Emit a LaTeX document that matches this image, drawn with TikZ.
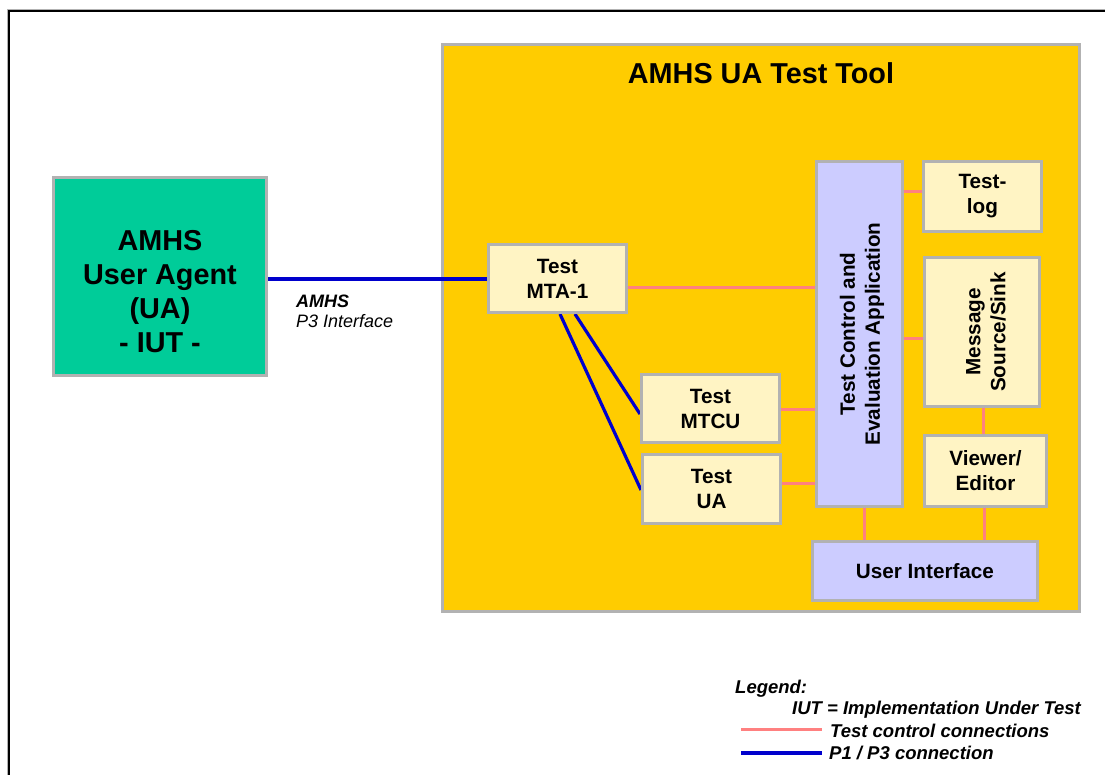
\documentclass[tikz,border=0pt]{standalone}
\usepackage{fontspec}
\setmainfont{Liberation Sans}
\definecolor{tyellow}{HTML}{FFCC00}
\definecolor{tgreen}{HTML}{00CC99}
\definecolor{tcream}{HTML}{FFF4C4}
\definecolor{tlav}{HTML}{CCCCFF}
\definecolor{tgray}{HTML}{B2B2B2}
\definecolor{tpink}{HTML}{FF8080}
\definecolor{tblue}{HTML}{0000CC}
\pgfdeclarelayer{bg}
\pgfdeclarelayer{mid}
\pgfsetlayers{bg,mid,main}
\begin{document}
\begin{tikzpicture}[x=1pt,y=-1pt,
  boxfont/.style={font=\bfseries\fontsize{20.7}{25}\selectfont},
  box/.style={draw=tgray, line width=3pt, fill=tcream, inner sep=0pt, align=center, boxfont},
  ctrl/.style={draw=tpink, line width=3pt},
  pthree/.style={draw=tblue, line width=3.2pt},
  txt/.style={inner sep=0pt},
  bigfont/.style={font=\bfseries\fontsize{28.8}{34}\selectfont},
  legfont/.style={font=\bfseries\itshape\fontsize{18.5}{22}\selectfont}]
\useasboundingbox (0,0) rectangle (1105,774);
\begin{pgfonlayer}{bg}
  \fill[white] (0,0) rectangle (1105,774);
  \draw[tgray, line width=1pt] (7.5,800) -- (7.5,9.5) -- (1110,9.5);
  \draw[black, line width=2pt] (9,800) -- (9,11) -- (1110,11);
  \node[draw=tgray, line width=3pt, fill=tyellow, minimum width=637pt, minimum height=567pt] (tool) at (761,328) {};
\end{pgfonlayer}
\node[txt, anchor=base, bigfont] (title) at (761,83) {AMHS UA Test Tool};
% IUT
\node[box, fill=tgreen, minimum width=213pt, minimum height=198pt] (iut) at (160,276.5) {};
\node[txt, anchor=north, align=center, bigfont] (iuttext) at (160,230) {AMHS\\User Agent\\(UA)\\- IUT -};
\node[txt, anchor=base west, font=\bfseries\itshape\fontsize{18}{21}\selectfont] (amhs) at (296,307) {AMHS};
\node[txt, anchor=base west, font=\itshape\fontsize{18}{21}\selectfont] (p3) at (296,327) {P3 Interface};
% boxes
\node[box, minimum width=138pt, minimum height=68pt] (mta) at (557.5,278.5) {Test\\MTA-1};
\node[box, minimum width=138pt, minimum height=68pt] (mtcu) at (710.5,408.5) {Test\\MTCU};
\node[box, minimum width=138pt, minimum height=69pt] (tua) at (711.5,489) {Test\\UA};
\node[box, fill=tlav, minimum width=86pt, minimum height=345pt] (tc) at (859.5,334) {};
\node[txt, rotate=90, align=center, boxfont] (tctext) at (862,334) {Test Control and\\Evaluation Application};
\node[box, minimum width=118pt, minimum height=70pt] (log) at (982.5,196.5) {Test-\\log};
\node[box, minimum width=115pt, minimum height=149pt] (msg) at (982,332) {};
\node[txt, rotate=90, align=center, boxfont] (msgtext) at (986,332) {Message\\Source/Sink};
\node[box, minimum width=122pt, minimum height=71pt] (view) at (985.5,471) {Viewer/\\Editor};
\node[box, fill=tlav, minimum width=225pt, minimum height=59pt] (ui) at (925,571) {User Interface};
% legend
\node[txt, anchor=base west, legfont] (leg) at (735,693) {Legend:};
\node[txt, anchor=base west, legfont] (legiut) at (792,714) {IUT = Implementation Under Test};
\node[txt, anchor=base west, legfont] (legctrl) at (830,737) {Test control connections};
\node[txt, anchor=base west, legfont] (legp) at (829,759) {P1 / P3 connection};
\coordinate (lp1) at (741,729);
\coordinate (lp2) at (822,729);
\coordinate (lb1) at (741,753);
\coordinate (lb2) at (822,753);
\begin{pgfonlayer}{mid}
  \draw[pthree] (iut.east |- 0,279) -- (mta.west |- 0,279);
  \draw[pthree] (mta.south -| 560,0) -- (tua.west |- 0,490);
  \draw[pthree] (mta.south -| 575,0) -- (mtcu.west |- 0,414);
  \draw[ctrl] (mta.east |- 0,287) -- (tc.west |- 0,287);
  \draw[ctrl] (mtcu.east |- 0,409) -- (tc.west |- 0,409);
  \draw[ctrl] (tua.east |- 0,483) -- (tc.west |- 0,483);
  \draw[ctrl] (tc.east |- 0,191) -- (log.west |- 0,191);
  \draw[ctrl] (tc.east |- 0,338) -- (msg.west |- 0,338);
  \draw[ctrl] (msg.south -| 983,0) -- (view.north -| 983,0);
  \draw[ctrl] (tc.south -| 864,0) -- (ui.north -| 864,0);
  \draw[ctrl] (view.south -| 984,0) -- (ui.north -| 984,0);
  \draw[ctrl] (lp1) -- (lp2);
  \draw[pthree] (lb1) -- (lb2);
\end{pgfonlayer}
\end{tikzpicture}
\end{document}
